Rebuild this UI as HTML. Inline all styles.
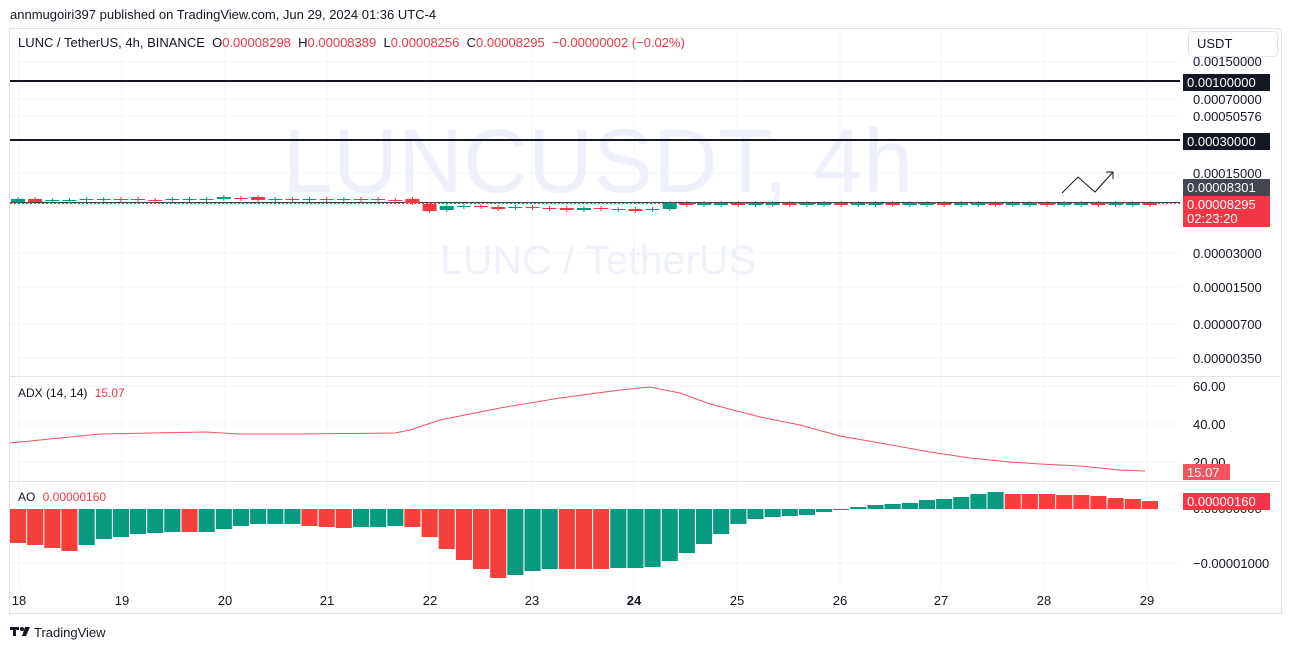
<!DOCTYPE html>
<html><head><meta charset="utf-8"><style>
html,body{margin:0;padding:0;background:#fff;width:1292px;height:649px;overflow:hidden;font-family:"Liberation Sans",Arial,sans-serif}
</style></head><body>
<svg id="s" width="1292" height="649" xmlns="http://www.w3.org/2000/svg" font-family="Liberation Sans, Arial, sans-serif">
<text x="10" y="19" font-size="13" fill="#131722">annmugoiri397 published on TradingView.com, Jun 29, 2024 01:36 UTC-4</text>
<rect x="9.5" y="28.5" width="1272" height="585" fill="none" stroke="#e0e3eb"/>
<g id="grid" stroke="#f3f4f8" stroke-width="1"></g>
<text x="598" y="192" font-size="90" fill="#eef1f9" text-anchor="middle">LUNCUSDT, 4h</text>
<text x="598" y="274" font-size="41" fill="#eef1f9" text-anchor="middle">LUNC / TetherUS</text>
<line x1="10" y1="376.5" x2="1282" y2="376.5" stroke="#e0e3eb"/>
<line x1="10" y1="481.5" x2="1282" y2="481.5" stroke="#e0e3eb"/>
<line x1="10" y1="81" x2="1180" y2="81" stroke="#131722" stroke-width="2"/>
<line x1="10" y1="140" x2="1180" y2="140" stroke="#131722" stroke-width="2"/>
<line x1="10" y1="203.5" x2="1180" y2="203.5" stroke="#f23645" stroke-dasharray="2,2"/>
<line x1="10" y1="202.5" x2="1180" y2="202.5" stroke="#434651" stroke-width="1"/>
<g id="candles"></g>
<polyline points="1062,193 1078,177 1095,192 1113,172" fill="none" stroke="#131722" stroke-width="1"/>
<polyline points="1106,172 1113,172 1113,179" fill="none" stroke="#131722" stroke-width="1"/>
<polyline id="adx" fill="none" stroke="#f7525f" stroke-width="1"/>
<g id="ao"></g>
<text x="18" y="47" font-size="13" fill="#131722" xml:space="preserve">LUNC / TetherUS, 4h, BINANCE  O<tspan fill="#f23645">0.00008298</tspan>  H<tspan fill="#f23645">0.00008389</tspan>  L<tspan fill="#f23645">0.00008256</tspan>  C<tspan fill="#f23645">0.00008295  −0.00000002 (−0.02%)</tspan></text>
<text x="18" y="397" font-size="12" fill="#131722">ADX (14, 14) <tspan fill="#f23645" dx="4">15.07</tspan></text>
<text x="18" y="501" font-size="12" fill="#131722">AO <tspan fill="#f23645" dx="4">0.00000160</tspan></text>
<rect x="1188.5" y="31.5" width="89" height="25" rx="4" fill="#fff" stroke="#e0e3eb"/>
<text x="1197" y="48" font-size="13" fill="#131722">USDT</text>
<g font-size="13" fill="#131722">
<text x="1193" y="66">0.00150000</text>
<text x="1193" y="104">0.00070000</text>
<text x="1193" y="121">0.00050576</text>
<text x="1193" y="178">0.00015000</text>
<text x="1193" y="258">0.00003000</text>
<text x="1193" y="292">0.00001500</text>
<text x="1193" y="329">0.00000700</text>
<text x="1193" y="363">0.00000350</text>
<text x="1193" y="391">60.00</text>
<text x="1193" y="429">40.00</text>
<text x="1193" y="467">20.00</text>
<text x="1193" y="513">0.00000000</text>
<text x="1193" y="568">−0.00001000</text>
</g>
<rect x="1183" y="74" width="87" height="17" fill="#131722"/><text x="1187" y="87" font-size="13" fill="#fff">0.00100000</text>
<rect x="1183" y="133" width="87" height="17" fill="#131722"/><text x="1187" y="146" font-size="13" fill="#fff">0.00030000</text>
<rect x="1183" y="179" width="87" height="17" fill="#434651"/><text x="1187" y="192" font-size="13" fill="#fff">0.00008301</text>
<rect x="1183" y="196" width="87" height="31" fill="#f23645"/><text x="1187" y="209" font-size="13" fill="#fff">0.00008295</text><text x="1187" y="223" font-size="13" fill="#fff">02:23:20</text>
<rect x="1183" y="464" width="47" height="16" fill="#f7525f"/><text x="1187" y="477" font-size="13" fill="#fff">15.07</text>
<rect x="1183" y="493" width="87" height="17" fill="#f23645"/><text x="1187" y="506" font-size="13" fill="#fff">0.00000160</text>
<g id="days" font-size="13" fill="#131722" text-anchor="middle"></g>
<g transform="translate(10,626)"><rect x="0" y="1" width="9" height="3" fill="#131722"/><rect x="3" y="1" width="3" height="9" fill="#131722"/><circle cx="12" cy="3" r="2" fill="#131722"/><polygon points="15,1 20,1 16,10 12,10" fill="#131722"/></g>
<text x="34" y="637" font-size="13" fill="#131722">TradingView</text>
</svg>
<script>
const NS="http://www.w3.org/2000/svg";
function el(p,t,a){const e=document.createElementNS(NS,t);for(const k in a)e.setAttribute(k,a[k]);document.getElementById(p).appendChild(e);return e;}
const dx=[19,122,225,327,430,532,634,737,840,941,1044,1147];
dx.forEach((x,i)=>{el('grid','line',{x1:x,y1:29,x2:x,y2:590});const t=el('days','text',{x:x,y:605});t.textContent=18+i;if(i==6)t.setAttribute('font-weight','bold');});
[62,99,116,173,253,287,324,358,386,424,462,509,563].forEach(y=>el('grid','line',{x1:10,y1:y,x2:1180,y2:y}));
const W=17.15,G='#089981',R='#f23645';
const ao=[[R,543],[R,545],[R,548],[R,551],[G,545],[G,539],[G,537],[G,534],[G,533],[G,532],[R,532],[G,532],[G,529],[G,526],[G,524],[G,524],[G,524],[R,526],[R,527],[R,528],[G,527],[G,527],[G,526],[R,527],[R,537],[R,549],[R,560],[R,569],[R,578],[G,575],[G,571],[G,569],[R,569],[R,569],[R,569],[G,568],[G,568],[G,567],[G,561],[G,553],[G,544],[G,534],[G,524],[G,519],[G,517],[G,516],[G,515],[G,512],[G,510],[G,507],[G,505],[G,504],[G,503],[G,500],[G,499],[G,497],[G,494],[G,492],[R,494],[R,494],[R,494],[R,495],[R,495],[R,496],[R,498],[R,499],[R,501]];
const Z=509;
ao.forEach((b,i)=>{const x=10+i*W;const y1=Math.min(Z,b[1]),y2=Math.max(Z,b[1]);el('ao','rect',{x:x.toFixed(1),y:y1,width:(W-1).toFixed(1),height:Math.max(1,y2-y1),fill:b[0]==G?'#089981':'#f7403b'});});
document.getElementById('adx').setAttribute('points',"10,443 60,438 100,434 150,433 205,432 240,434 300,434 395,433 410,430 440,420 500,408 560,398 620,390 650,387 680,393 710,404 760,417 800,425 840,436 880,443 930,452 970,458 1010,462 1040,464 1080,466 1120,470 1145,471");
const cd=[[G,199,202],[R,199,202],[G,200,201],[G,200,201],[G,199,200],[G,199,200],[R,199,200],[R,199,200],[R,200,201],[G,199,200],[G,199,200],[G,199,200],[G,197,199],[R,198,199],[R,197,200],[G,199,200],[R,199,200],[G,199,200],[R,199,200],[G,199,200],[R,199,200],[R,199,200],[R,200,201],[R,199,203],[R,204,211],[G,206,210],[G,206,207],[R,206,207],[R,207,209],[G,207,208],[R,207,208],[R,208,209],[R,208,210],[G,208,210],[R,208,209],[G,209,210],[R,209,211],[G,209,210],[G,203,209],[R,203,205],[G,203,205]];
for(let i=0;i<67;i++){const c=cd[i]||[(i%3==0?R:G),203,205];const x=11+i*W;el('candles','line',{x1:x+7,y1:c[1]-2,x2:x+7,y2:c[2]+2,stroke:c[0]});el('candles','rect',{x:x.toFixed(1),y:c[1],width:14,height:Math.max(1,c[2]-c[1]),fill:c[0]});}
</script>
</body></html>
